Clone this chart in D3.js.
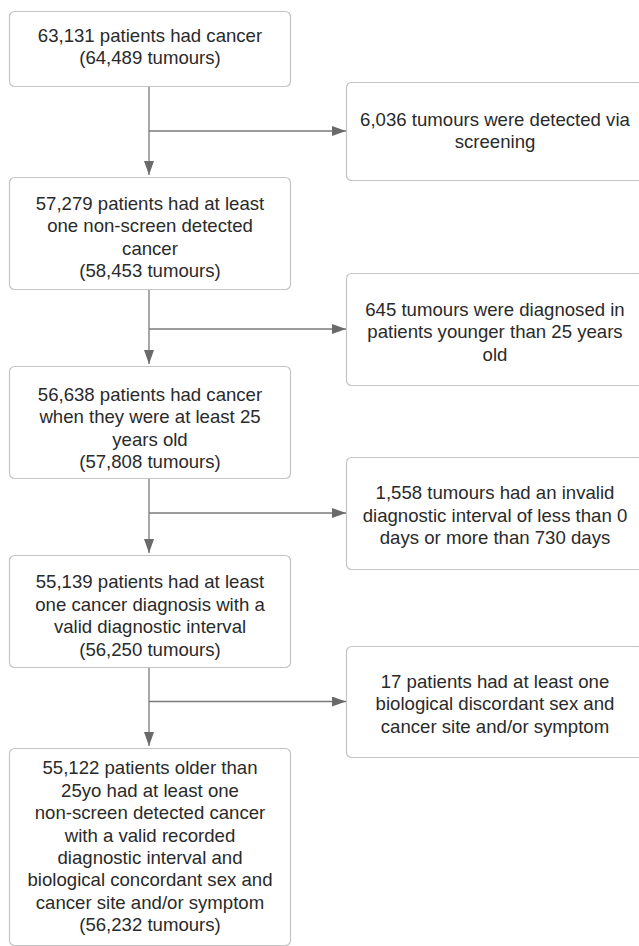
<!DOCTYPE html>
<html>
<head>
<meta charset="utf-8">
<script src="https://cdn.jsdelivr.net/npm/d3@7"></script>
<style>
  html, body { margin: 0; padding: 0; background: #fff; }
  svg { display: block; }
</style>
</head>
<body>
<svg id="chart" width="639" height="946"></svg>
<script>
// ---- Data: flow steps (main column) ----
const mainSteps = [
  ["63,131 patients had cancer", "(64,489 tumours)"],
  ["57,279 patients had at least", "one non-screen detected", "cancer", "(58,453 tumours)"],
  ["56,638 patients had cancer", "when they were at least 25", "years old", "(57,808 tumours)"],
  ["55,139 patients had at least", "one cancer diagnosis with a", "valid diagnostic interval", "(56,250 tumours)"],
  ["55,122 patients older than", "25yo had at least one", "non-screen detected cancer", "with a valid recorded", "diagnostic interval and", "biological concordant sex and", "cancer site and/or symptom", "(56,232 tumours)"]
];
// ---- Data: exclusions (side column) ----
const exclusions = [
  ["6,036 tumours were detected via", "screening"],
  ["645 tumours were diagnosed in", "patients younger than 25 years", "old"],
  ["1,558 tumours had an invalid", "diagnostic interval of less than 0", "days or more than 730 days"],
  ["17 patients had at least one", "biological discordant sex and", "cancer site and/or symptom"]
];

// ---- Layout (geometry kept separate from data) ----
const mainLayout = [
  {y0: 11,  y1: 86,  base: 41.7},
  {y0: 177, y1: 289, base: 210},
  {y0: 366, y1: 478, base: 400.7},
  {y0: 555, y1: 667, base: 588.3},
  {y0: 748, y1: 945, base: 774.3}
];
const sideLayout = [
  {y0: 82,  y1: 180, base: 126},
  {y0: 273, y1: 385, base: 316},
  {y0: 457, y1: 569, base: 499.3},
  {y0: 646, y1: 757, base: 687.7}
];
const mainX0 = 9, mainX1 = 290, stemX = 149;
const sideX0 = 346, sideW = 297;
const lineH = 22.4;
const fontSize = 18.6;
const lineColor = "#7a7a7a", headColor = "#6a6a6a", boxStroke = "#c4c4c4", textColor = "#2a2a2a";

const svg = d3.select("#chart");

const defs = svg.append("defs");
defs.append("marker")
  .attr("id", "arrow")
  .attr("viewBox", "0 0 14 10")
  .attr("refX", 14).attr("refY", 5)
  .attr("markerWidth", 14).attr("markerHeight", 10)
  .attr("markerUnits", "userSpaceOnUse")
  .attr("orient", "auto")
  .append("path")
  .attr("d", "M0,0 L14,5 L0,10 Z")
  .attr("fill", headColor);

const links = svg.append("g");
const boxes = svg.append("g");

// vertical connectors between main boxes
mainLayout.slice(0, -1).forEach((b, i) => {
  links.append("line")
    .attr("x1", stemX).attr("y1", b.y1)
    .attr("x2", stemX).attr("y2", mainLayout[i + 1].y0 - 2)
    .attr("stroke", lineColor).attr("stroke-width", 1.3)
    .attr("marker-end", "url(#arrow)");
});
// horizontal branches to exclusion boxes
sideLayout.forEach(s => {
  const cy = (s.y0 + s.y1) / 2;
  links.append("line")
    .attr("x1", stemX).attr("y1", cy)
    .attr("x2", sideX0).attr("y2", cy)
    .attr("stroke", lineColor).attr("stroke-width", 1.3)
    .attr("marker-end", "url(#arrow)");
});

function drawBox(x0, w, lay, lines) {
  const g = boxes.append("g");
  g.append("rect")
    .attr("x", x0 + 0.5).attr("y", lay.y0 + 0.5)
    .attr("width", w).attr("height", lay.y1 - lay.y0)
    .attr("rx", 5).attr("ry", 5)
    .attr("fill", "#fff")
    .attr("stroke", boxStroke).attr("stroke-width", 1.2);
  g.append("text")
    .attr("font-family", "'Liberation Sans', Arial, Helvetica, sans-serif")
    .attr("font-size", fontSize)
    .attr("fill", textColor)
    .attr("text-anchor", "middle")
    .selectAll("tspan")
    .data(lines)
    .join("tspan")
    .attr("x", x0 + w / 2 + 0.5)
    .attr("y", (d, i) => lay.base + i * lineH)
    .text(d => d);
}

mainSteps.forEach((lines, i) => drawBox(mainX0, mainX1 - mainX0, mainLayout[i], lines));
exclusions.forEach((lines, i) => drawBox(sideX0, sideW, sideLayout[i], lines));
</script>
</body>
</html>
